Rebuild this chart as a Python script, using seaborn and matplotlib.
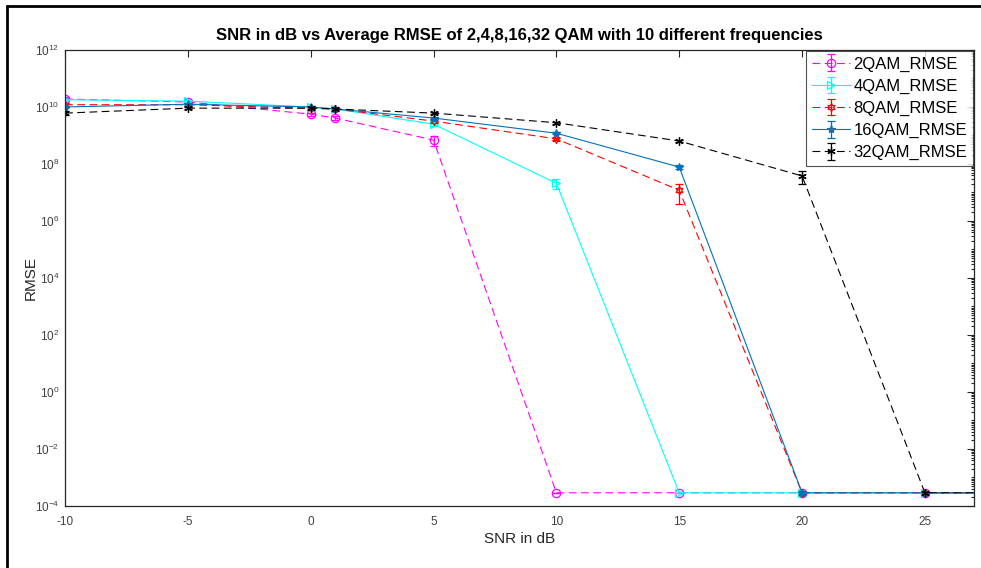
import matplotlib
matplotlib.use('agg')
import matplotlib.pyplot as plt
import matplotlib.ticker as mticker
from matplotlib.lines import Line2D
import seaborn as sns
import numpy as np

# SNR points (the one at 30 is clipped by the x limit, lines run to the edge)
snr = [-10, -5, 0, 1, 5, 10, 15, 20, 25, 30]

FLOOR = 2.9e-4

qam2 = [1.9e10, 1.5e10, 5.6e9, 4.1e9, 6.9e8, FLOOR, FLOOR, FLOOR, FLOOR, FLOOR]
qam4 = [1.8e10, 1.6e10, 1.0e10, 8.5e9, 2.5e9, 2.1e7, FLOOR, FLOOR, FLOOR, FLOOR]
qam8 = [1.2e10, 1.2e10, 9.0e9, 8.5e9, 3.2e9, 7.6e8, 1.2e7, FLOOR, FLOOR, FLOOR]
qam16 = [1.0e10, 1.25e10, 1.0e10, 8.5e9, 4.1e9, 1.2e9, 7.8e7, FLOOR, FLOOR, FLOOR]
qam32 = [6.1e9, 9.1e9, 9.1e9, 8.5e9, 6.1e9, 2.8e9, 6.4e8, 3.8e7, FLOOR, FLOOR]

err2 = [3e9, 2e9, 8e8, 6e8, 2.5e8, 0, 0, 0, 0, 0]
err4 = [2e9, 2e9, 1e9, 8e8, 3e8, 8e6, 0, 0, 0, 0]
err8 = [1.5e9, 1.5e9, 8e8, 8e8, 3e8, 8e7, 8e6, 0, 0, 0]
err16 = [1e9, 1e9, 8e8, 6e8, 3e8, 1e8, 1.2e7, 0, 0, 0]
err32 = [1e9, 8e8, 8e8, 6e8, 5e8, 2e8, 6e7, 1.8e7, 0, 0]

labels = ['2QAM_RMSE', '4QAM_RMSE', '8QAM_RMSE', '16QAM_RMSE', '32QAM_RMSE']

sns.set_theme(style='white')
plt.rcParams['font.family'] = ['Liberation Sans', 'DejaVu Sans']
plt.rcParams['mathtext.default'] = 'regular'
plt.rcParams['axes.unicode_minus'] = False

DASH = (0, (7, 4))

series = [
    (qam2, err2, '#FF00FF', DASH, 'o', 'none'),
    (qam4, err4, '#00FFFF', '-', '>', 'none'),
    (qam8, err8, '#FF0000', DASH, (6, 1, 0), 'none'),
    (qam16, err16, '#0072BD', '-', '*', '#0072BD'),
    (qam32, err32, '#000000', DASH, (6, 2, 0), '#000000'),
]

fig = plt.figure(figsize=(9.81, 5.68), dpi=100)
ax = fig.add_axes([0.0663, 0.1092, 0.9266, 0.8028])

for (vals, errs, color, ls, marker, mfc), label in zip(series, labels):
    ax.errorbar(snr, vals, yerr=errs, color=color, ls=ls, lw=0.8,
                marker=marker, ms=6, mfc=mfc, mec=color, mew=0.9,
                elinewidth=0.9, capsize=3, capthick=0.9, label=label)

ax.set_yscale('log')
ax.set_xlim(-10, 27)
ax.set_ylim(1e-4, 1e12)
ax.set_xticks([-10, -5, 0, 5, 10, 15, 20, 25])
ax.yaxis.set_major_locator(mticker.FixedLocator([10.0 ** k for k in range(-4, 13, 2)]))
ax.yaxis.set_major_formatter(mticker.LogFormatterMathtext())
ax.yaxis.set_minor_locator(mticker.LogLocator(base=10, subs=np.arange(1, 10), numticks=200))
ax.yaxis.set_minor_formatter(mticker.NullFormatter())

ax.tick_params(which='both', direction='in', top=True, right=True,
               colors='#262626', labelsize=8.5, width=0.8)
ax.tick_params(axis='x', labelcolor='#404040', pad=7)
ax.tick_params(axis='y', labelcolor='#404040', pad=4)
ax.tick_params(which='major', length=5)
ax.tick_params(which='minor', length=2.5)
for s in ax.spines.values():
    s.set_color('#262626')
    s.set_linewidth(0.9)

ax.set_xlabel('SNR in dB', fontsize=11, color='#262626', labelpad=3)
ax.set_ylabel('RMSE', fontsize=11, color='#262626', labelpad=-2)
ax.set_title('SNR in dB vs Average RMSE of 2,4,8,16,32 QAM with 10 different frequencies',
             fontsize=12, fontweight='bold', color='black', pad=7)

leg = ax.legend(loc='upper right', fontsize=12, frameon=True, fancybox=False,
                borderaxespad=0.05, handlelength=2.3, handletextpad=0.2,
                borderpad=0.35, labelspacing=0.42)
leg.get_frame().set_edgecolor('#262626')
leg.get_frame().set_linewidth(0.8)
for t in leg.get_texts():
    t.set_color('black')

# outer frame lines (left and top)
fig.add_artist(Line2D([0.0075, 0.0075], [0, 0.99], transform=fig.transFigure, color='black', lw=2))
fig.add_artist(Line2D([0.0075, 1.0], [0.99, 0.99], transform=fig.transFigure, color='black', lw=2))

fig.savefig('out.png', dpi=100)
